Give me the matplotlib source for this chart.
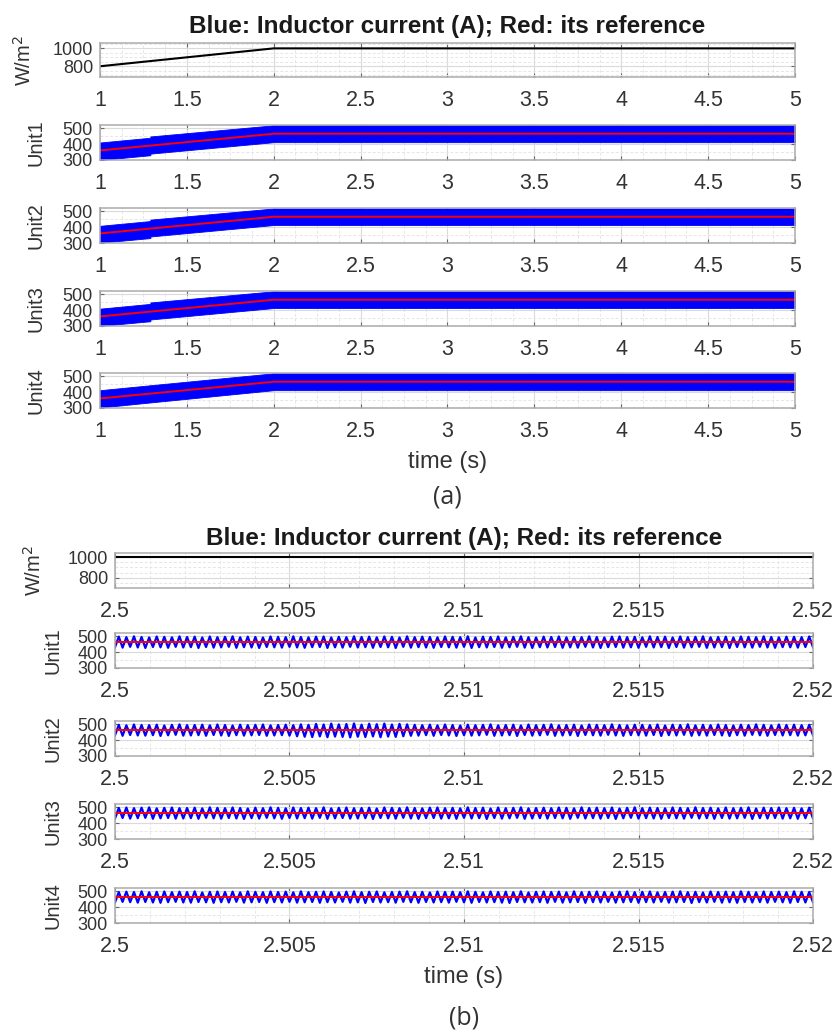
# coding=utf-8
import matplotlib.pyplot as plt, numpy as np
from matplotlib.ticker import MultipleLocator, FormatStrFormatter

plt.rcParams['font.family'] = ['Liberation Sans', 'DejaVu Sans']

W, H = 837, 1034
title = 'Blue: Inductor current (A); Red: its reference'
units = ['Unit1', 'Unit2', 'Unit3', 'Unit4']

# ---------------- (a) 1..5 s ----------------
xt_a = [1, 1.5, 2, 2.5, 3, 3.5, 4, 4.5, 5]
irr_t = [1.0, 2.0, 5.0]
irr_a = [800, 1000, 1000]
ref_t = [1.0, 2.0, 5.0]
ref_a = [360, 465, 465]
# envelope of the (very dense) switching ripple
env_t = [1.0, 1.29, 1.29, 2.0, 5.0]
u1_hi = [410, 440, 448, 518, 518]
u1_lo = [300, 330, 340, 412, 412]
u2_hi = [408, 438, 447, 517, 517]
u2_lo = [302, 331, 341, 413, 413]
u3_hi = [409, 439, 448, 518, 518]
u3_lo = [301, 330, 341, 413, 413]
u4_hi = [412, 443, 443, 518, 518]
u4_lo = [303, 335, 335, 412, 412]

# ---------------- (b) 2.5..2.52 s ----------------
xt_b = [2.5, 2.505, 2.51, 2.515, 2.52]
irr_b = [1000, 1000]
ref_b = 462
u1_pk = [497, 494, 499, 495, 492, 498, 496, 493, 499, 495, 497, 492, 498, 494, 496, 499, 493, 497, 495, 492, 498, 496, 494,
         499, 495, 493, 497, 498, 492, 496, 494, 499, 495, 497, 493, 498, 496, 492, 499, 494, 497, 495, 493, 498, 496, 494,
         499, 492, 497, 495, 498, 493, 496, 499, 494, 492, 497, 495, 498, 493, 496, 494, 499, 495, 492, 497, 498, 494, 496,
         493, 499, 495, 497, 492, 498, 494, 496, 499, 493, 495, 497, 492, 498, 496, 494, 499, 495, 493, 497, 496, 494, 498]
u1_tr = [431, 428, 433, 429, 426, 432, 430, 427, 433, 429, 431, 426, 432, 428, 430, 433, 427, 431, 429, 426, 432, 430, 428,
         433, 429, 427, 431, 432, 426, 430, 428, 433, 429, 431, 427, 432, 430, 426, 433, 428, 431, 429, 427, 432, 430, 428,
         433, 426, 431, 429, 432, 427, 430, 433, 428, 426, 431, 429, 432, 427, 430, 428, 433, 429, 426, 431, 432, 428, 430,
         427, 433, 429, 431, 426, 432, 428, 430, 433, 427, 429, 431, 426, 432, 430, 428, 433, 429, 427, 431, 430, 428, 432]
u2_pk = [496, 493, 498, 495, 494, 497, 492, 496, 499, 494, 495, 497, 493, 498, 495, 492, 497, 494, 496, 498, 493, 495, 497,
         494, 499, 496, 502, 498, 504, 499, 501, 505, 497, 503, 500, 504, 498, 502, 499, 496, 494, 497, 493, 498, 495, 492,
         497, 494, 496, 499, 493, 495, 497, 492, 498, 494, 496, 499, 493, 495, 497, 492, 498, 496, 494, 499, 495, 493, 497,
         496, 494, 498, 492, 497, 495, 499, 493, 496, 494, 498, 495, 492, 497, 494, 499, 496, 493, 498, 495, 497, 494, 496]
u2_tr = [430, 427, 432, 429, 428, 431, 426, 430, 433, 428, 429, 431, 427, 432, 429, 426, 431, 428, 430, 432, 427, 429, 431,
         428, 424, 421, 419, 423, 418, 422, 420, 417, 421, 419, 423, 418, 422, 420, 424, 427, 428, 431, 427, 432, 429, 426,
         431, 428, 430, 433, 427, 429, 431, 426, 432, 428, 430, 433, 427, 429, 431, 426, 432, 430, 428, 433, 429, 427, 431,
         430, 428, 432, 426, 431, 429, 433, 427, 430, 428, 432, 429, 426, 431, 428, 433, 430, 427, 432, 429, 431, 428, 430]
u3_pk = [495, 498, 494, 497, 499, 493, 496, 498, 494, 495, 497, 493, 499, 496, 494, 498, 495, 492, 497, 494, 499, 496, 493,
         498, 495, 497, 494, 499, 493, 496, 498, 494, 495, 497, 492, 498, 496, 494, 499, 495, 493, 497, 498, 494, 496, 493,
         499, 495, 497, 492, 498, 494, 496, 499, 493, 495, 497, 494, 498, 496, 493, 499, 495, 497, 494, 498, 492, 496, 499,
         494, 497, 495, 493, 498, 496, 494, 499, 495, 497, 493, 498, 494, 496, 499, 492, 497, 495, 498, 494, 496, 493, 497]
u3_tr = [429, 432, 428, 431, 433, 427, 430, 432, 428, 429, 431, 427, 433, 430, 428, 432, 429, 426, 431, 428, 433, 430, 427,
         432, 429, 431, 428, 433, 427, 430, 432, 428, 429, 431, 426, 432, 430, 428, 433, 429, 427, 431, 432, 428, 430, 427,
         433, 429, 431, 426, 432, 428, 430, 433, 427, 429, 431, 428, 432, 430, 427, 433, 429, 431, 428, 432, 426, 430, 433,
         428, 431, 429, 427, 432, 430, 428, 433, 429, 431, 427, 432, 428, 430, 433, 426, 431, 429, 432, 428, 430, 427, 431]
u4_pk = [494, 497, 495, 499, 493, 496, 498, 494, 497, 495, 499, 492, 496, 498, 495, 497, 493, 499, 496, 494, 498, 495, 497,
         493, 499, 494, 496, 498, 495, 492, 497, 499, 494, 496, 498, 493, 495, 497, 499, 494, 496, 492, 498, 495, 497, 494,
         499, 496, 493, 498, 495, 497, 494, 499, 492, 496, 498, 495, 497, 493, 499, 494, 496, 498, 495, 492, 497, 499, 494,
         496, 498, 493, 495, 497, 499, 494, 496, 492, 498, 495, 497, 494, 499, 496, 493, 498, 495, 497, 494, 499, 496, 495]
u4_tr = [430, 433, 431, 428, 432, 429, 427, 431, 433, 429, 428, 432, 430, 427, 431, 429, 433, 428, 430, 432, 427, 431, 429,
         433, 428, 430, 432, 427, 431, 429, 433, 428, 430, 426, 432, 429, 431, 428, 433, 430, 427, 432, 429, 431, 428, 433,
         430, 427, 432, 429, 431, 428, 426, 432, 430, 429, 431, 427, 433, 428, 430, 432, 427, 431, 429, 433, 428, 430, 432,
         427, 431, 429, 433, 428, 430, 432, 426, 431, 429, 433, 428, 430, 427, 432, 429, 431, 428, 433, 430, 427, 432, 429]


def box(l, t, r, b):
    return [l / W, 1 - b / H, (r - l) / W, (b - t) / H]


def style(ax, xt, xminor, yt, ylim, yminor):
    ax.set_xlim(xt[0], xt[-1])
    ax.set_ylim(ylim)
    ax.set_xticks(xt)
    ax.set_yticks(yt)
    ax.xaxis.set_minor_locator(MultipleLocator(xminor))
    ax.yaxis.set_minor_locator(MultipleLocator(yminor))
    ax.xaxis.set_major_formatter(FormatStrFormatter('%g'))
    ax.grid(which='major', color='#dadada', lw=0.8)
    ax.grid(which='minor', color='#e6e6e6', lw=0.7, ls=(0, (3, 2)))
    ax.set_axisbelow(True)
    for s in ax.spines.values():
        s.set_color('#ababab')
        s.set_linewidth(1.1)
    ax.tick_params(which='major', direction='in', length=3, width=0.8, color='#666666',
                   top=True, right=True, labelcolor='#333333')
    ax.tick_params(axis='x', labelsize=15.5, pad=9.5)
    ax.tick_params(axis='y', labelsize=13, pad=5)
    ax.tick_params(which='minor', length=0)


fig = plt.figure(figsize=(W / 100, H / 100), dpi=100)

# ---- panel (a)
tops_a = [43, 125, 208, 291, 373]
ax = fig.add_axes(box(100, tops_a[0], 795, tops_a[0] + 34))
ax.plot(irr_t, irr_a, color='k', lw=1.5)
style(ax, xt_a, 0.125, [800, 1000], (680, 1060), 50)
ax.set_ylabel('W/m$^2$', fontsize=14.5, color='#333333')
ax.yaxis.set_label_coords(-0.094, 0.5)
ax.set_title(title, fontsize=17.5, fontweight='bold', color='#1a1a1a', pad=7)

his = [u1_hi, u2_hi, u3_hi, u4_hi]
los = [u1_lo, u2_lo, u3_lo, u4_lo]
for i in range(4):
    t = tops_a[i + 1]
    ax = fig.add_axes(box(100, t, 795, t + 35))
    ax.fill_between(env_t, los[i], his[i], color='#0000ff', lw=0.6, edgecolor='#0000ff')
    ax.plot(ref_t, ref_a, color='#ff0000', lw=1.4)
    style(ax, xt_a, 0.125, [300, 400, 500], (300, 520), 50)
    ax.set_ylabel(units[i], fontsize=14.5, color='#333333')
    ax.yaxis.set_label_coords(-0.078, 0.5)
    if i == 3:
        ax.set_xlabel('time (s)', fontsize=17, color='#333333', labelpad=6)

fig.text(447 / W, 1 - 497 / H, '(a)', fontsize=18, family=['Open Sans', 'DejaVu Sans'],
         ha='center', va='center', color='#333333')

# ---- panel (b)
tops_b = [553, 633, 721, 804, 888]
ax = fig.add_axes(box(115, tops_b[0], 813, tops_b[0] + 35))
ax.plot([xt_b[0], xt_b[-1]], irr_b, color='k', lw=1.5)
style(ax, xt_b, 0.001, [800, 1000], (700, 1040), 50)
ax.set_ylabel('W/m$^2$', fontsize=14.5, color='#333333')
ax.yaxis.set_label_coords(-0.1, 0.5)
ax.set_title(title, fontsize=17.5, fontweight='bold', color='#1a1a1a', pad=6)

pks = [u1_pk, u2_pk, u3_pk, u4_pk]
trs = [u1_tr, u2_tr, u3_tr, u4_tr]
for i in range(4):
    t = tops_b[i + 1]
    ax = fig.add_axes(box(115, t, 813, t + 35))
    n = min(len(pks[i]), len(trs[i]))
    tt = np.linspace(xt_b[0], xt_b[-1], 2 * n + 1)
    yy = np.empty(2 * n + 1)
    yy[0:-1:2] = trs[i][:n]
    yy[1::2] = pks[i][:n]
    yy[-1] = trs[i][0]
    ax.plot(tt, yy, color='#0000ff', lw=1.6)
    ax.plot([xt_b[0], xt_b[-1]], [ref_b, ref_b], color='#ff0000', lw=1.4)
    style(ax, xt_b, 0.001, [300, 400, 500], (300, 520), 50)
    ax.set_ylabel(units[i], fontsize=14.5, color='#333333')
    ax.yaxis.set_label_coords(-0.0745, 0.5)
    if i == 3:
        ax.set_xlabel('time (s)', fontsize=17, color='#333333', labelpad=6)

fig.text(464 / W, 1 - 1018 / H, '(b)', fontsize=18, family=['Open Sans', 'DejaVu Sans'],
         ha='center', va='center', color='#333333')

fig.savefig('out.png', dpi=100)
